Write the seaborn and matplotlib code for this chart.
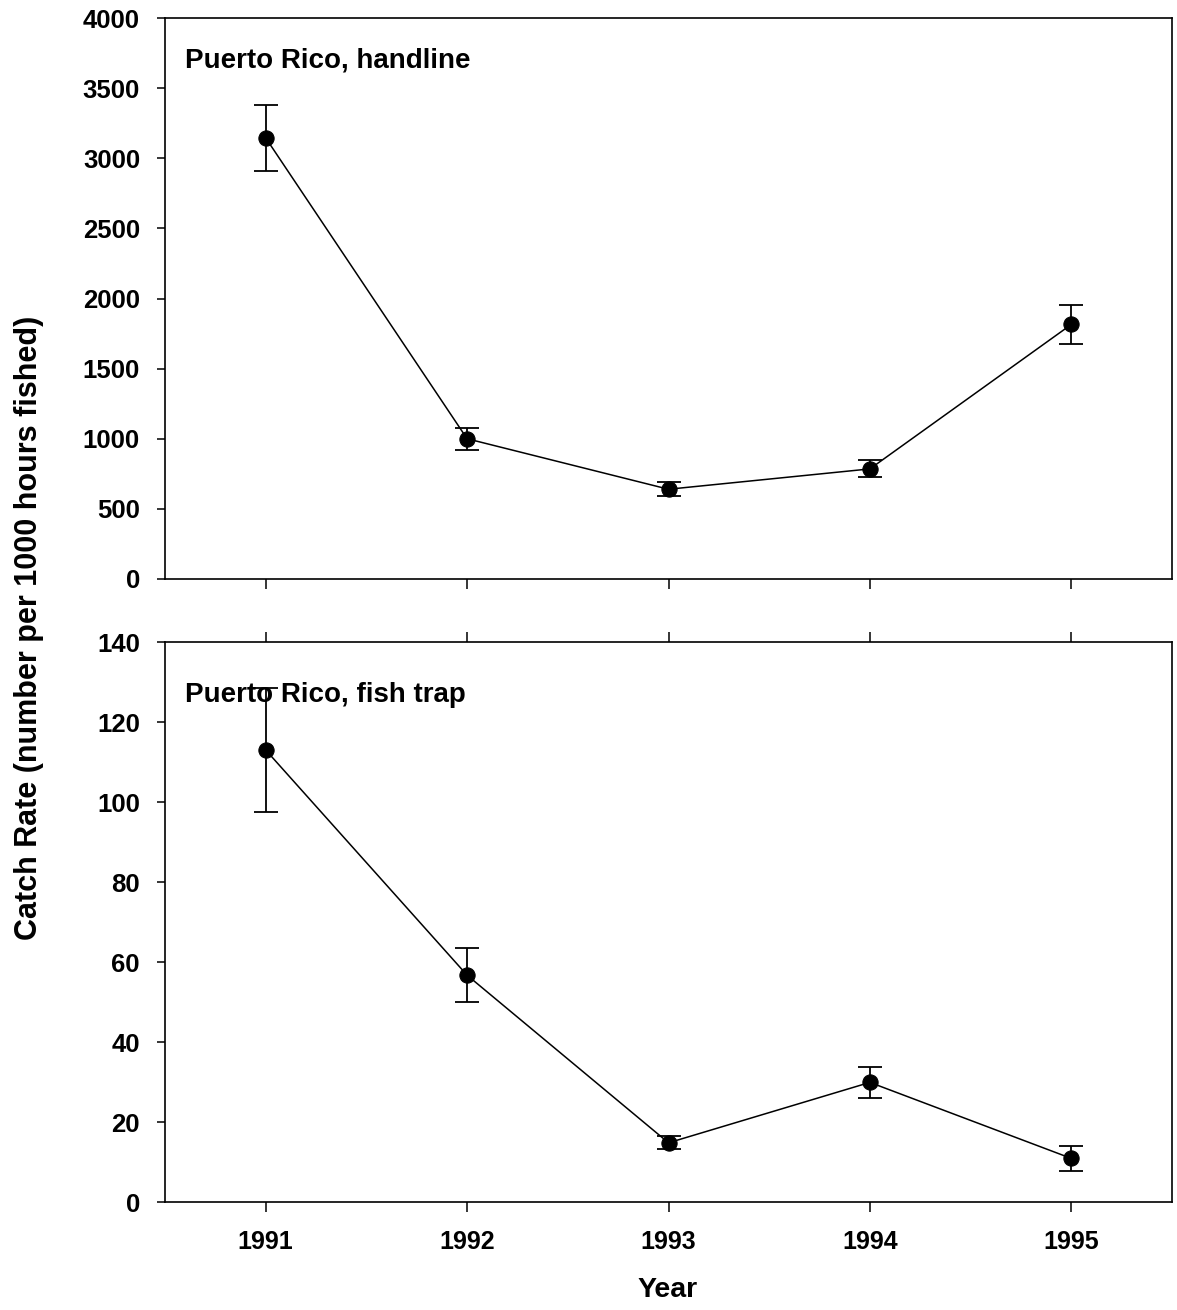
import matplotlib
matplotlib.use("Agg")
import matplotlib.pyplot as plt
import seaborn as sns
import pandas as pd

years = [1991, 1992, 1993, 1994, 1995]

handline_rate = [3145, 1000, 640, 785, 1815]
handline_err = [235, 80, 50, 60, 140]

trap_rate = [113, 56.7, 14.8, 29.9, 10.9]
trap_err = [15.5, 6.7, 1.6, 3.9, 3.1]

panel_titles = ["Puerto Rico, handline", "Puerto Rico, fish trap"]
y_label = "Catch Rate (number per 1000 hours fished)"
x_label = "Year"

sns.set_theme(style="ticks")
plt.rcParams["font.family"] = ["Liberation Sans", "DejaVu Sans"]
plt.rcParams["font.weight"] = "bold"
for key in ["text.color", "axes.labelcolor", "xtick.color", "ytick.color", "axes.edgecolor"]:
    plt.rcParams[key] = "black"

W, H = 1177, 1310
fig = plt.figure(figsize=(W / 100, H / 100), dpi=100)
fig.patch.set_facecolor("white")

def px_axes(left, top, right, bottom):
    return fig.add_axes([left / W, 1 - bottom / H, (right - left) / W, (bottom - top) / H])

ax_top = px_axes(165, 18, 1172, 579)
ax_bot = px_axes(165, 642, 1172, 1202)

panels = [
    (ax_top, handline_rate, handline_err, (0, 4000), range(0, 4001, 500), (0.02, 0.925)),
    (ax_bot, trap_rate, trap_err, (0, 140), range(0, 141, 20), (0.02, 0.905)),
]

for i, (ax, rate, err, ylim, yticks, tpos) in enumerate(panels):
    df = pd.DataFrame({"year": years, "rate": rate, "err": err})
    ax.errorbar(df["year"], df["rate"], yerr=df["err"], fmt="none",
                ecolor="black", elinewidth=1.3, capsize=8.5, capthick=1.3, zorder=2)
    sns.lineplot(data=df, x="year", y="rate", ax=ax, color="black", linewidth=1.1,
                 marker="o", markersize=11, markeredgecolor="black",
                 markerfacecolor="black", zorder=3)
    ax.set_xlim(1990.5, 1995.5)
    ax.set_ylim(*ylim)
    ax.set_yticks(list(yticks))
    ax.set_xticks(years)
    ax.set_xlabel("")
    ax.set_ylabel("")
    for s in ax.spines.values():
        s.set_visible(True)
        s.set_linewidth(1.2)
        s.set_color("black")
    ax.tick_params(axis="y", direction="out", length=6, width=1.1, labelsize=18.5,
                   color="black", labelcolor="black", right=False, pad=12)
    ax.text(tpos[0], tpos[1], panel_titles[i], transform=ax.transAxes,
            fontsize=20, fontweight="bold", ha="left", va="center", color="black")
    for lab in ax.get_yticklabels():
        lab.set_fontweight("bold")

ax_top.tick_params(axis="x", direction="out", length=7, width=1.1,
                   bottom=True, top=False, labelbottom=False)
ax_bot.tick_params(axis="x", direction="out", length=7, width=1.1,
                   bottom=True, top=True, labelbottom=True, labeltop=False,
                   labelsize=18, pad=13, color="black", labelcolor="black")
for lab in ax_bot.get_xticklabels():
    lab.set_fontweight("bold")

fig.text(668 / W, 1 - 1290 / H, x_label, ha="center", va="center",
         fontsize=20.5, fontweight="bold", color="black")
fig.text(29 / W, 1 - 628 / H, y_label, ha="center", va="center", rotation=90,
         fontsize=22, fontweight="bold", color="black")

fig.savefig("out.png", dpi=100, facecolor="white")
